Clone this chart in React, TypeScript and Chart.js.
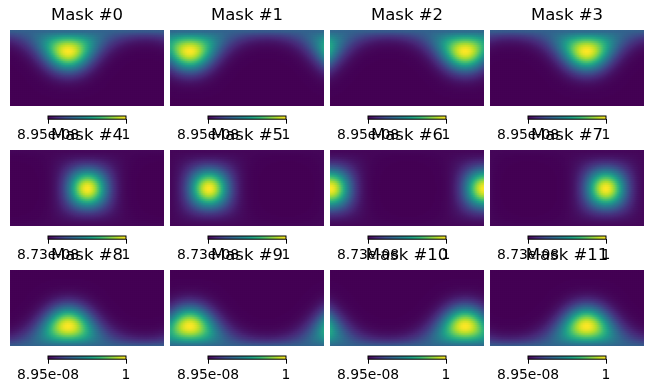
import React, { useEffect, useRef } from "react";
import { Chart, registerables } from "chart.js";

Chart.register(...registerables);

// ---------------- data ----------------
const maskTitles = [
  "Mask #0", "Mask #1", "Mask #2", "Mask #3",
  "Mask #4", "Mask #5", "Mask #6", "Mask #7",
  "Mask #8", "Mask #9", "Mask #10", "Mask #11",
];
// centre of each mask's gaussian spot (longitude, latitude in degrees)
const maskCenterLon = [45, 135, 225, 315, 0, 90, 180, 270, 45, 135, 225, 315];
const maskCenterLat = [41.81, 41.81, 41.81, 41.81, 0, 0, 0, 0, -41.81, -41.81, -41.81, -41.81];
// gaussian width of each spot (degrees)
const maskSigmaDeg = [31.6, 31.6, 31.6, 31.6, 31.6, 31.6, 31.6, 31.6, 31.6, 31.6, 31.6, 31.6];
// colour-bar range and its tick labels
const colorbarMinValues = [8.95e-8, 8.95e-8, 8.95e-8, 8.95e-8, 8.73e-8, 8.73e-8, 8.73e-8, 8.73e-8, 8.95e-8, 8.95e-8, 8.95e-8, 8.95e-8];
const colorbarMaxValues = [1, 1, 1, 1, 1, 1, 1, 1, 1, 1, 1, 1];
const colorbarMinLabels = ["8.95e-08", "8.95e-08", "8.95e-08", "8.95e-08", "8.73e-08", "8.73e-08", "8.73e-08", "8.73e-08", "8.95e-08", "8.95e-08", "8.95e-08", "8.95e-08"];
const colorbarMaxLabels = ["1", "1", "1", "1", "1", "1", "1", "1", "1", "1", "1", "1"];

// ---------------- styling / layout ----------------
const FONT = "'DejaVu Sans', 'Liberation Sans', sans-serif";
const PANEL_LEFT = [10, 170, 330, 490];
const PANEL_TOP = [30, 150, 270];
const PANEL_W = 154;
const PANEL_H = 76;
const GRID_NX = 77;
const GRID_NY = 38;
const CB_W = 78;
const CB_H = 3.2;
const CB_GAP = 9.8;

const VIRIDIS = [
  [68, 1, 84], [72, 40, 120], [62, 74, 137], [49, 104, 142], [38, 130, 142],
  [31, 158, 137], [53, 183, 121], [109, 205, 89], [180, 222, 44], [253, 231, 37],
];

function viridis(t: number): string {
  const tt = Math.max(0, Math.min(1, t)) * (VIRIDIS.length - 1);
  const i = Math.min(VIRIDIS.length - 2, Math.floor(tt));
  const f = tt - i;
  const a = VIRIDIS[i];
  const b = VIRIDIS[i + 1];
  const r = Math.round(a[0] + (b[0] - a[0]) * f);
  const g = Math.round(a[1] + (b[1] - a[1]) * f);
  const bl = Math.round(a[2] + (b[2] - a[2]) * f);
  return `rgb(${r},${g},${bl})`;
}

function maskValue(k: number, lonDeg: number, latDeg: number): number {
  const d2r = Math.PI / 180;
  const l1 = maskCenterLon[k] * d2r;
  const p1 = maskCenterLat[k] * d2r;
  const l2 = lonDeg * d2r;
  const p2 = latDeg * d2r;
  let c = Math.sin(p1) * Math.sin(p2) + Math.cos(p1) * Math.cos(p2) * Math.cos(l2 - l1);
  c = Math.max(-1, Math.min(1, c));
  const d = Math.acos(c);
  const s = maskSigmaDeg[k] * d2r;
  return Math.exp(-(d * d) / (2 * s * s));
}

function MaskMap({ k }: { k: number }) {
  const ref = useRef<HTMLCanvasElement>(null);
  const col = k % 4;
  const row = Math.floor(k / 4);
  useEffect(() => {
    const vmin = colorbarMinValues[k];
    const vmax = colorbarMaxValues[k];
    const pts: { x: number; y: number }[] = [];
    const colors: string[] = [];
    for (let j = 0; j < GRID_NY; j++) {
      const lat = -90 + ((j + 0.5) * 180) / GRID_NY;
      for (let i = 0; i < GRID_NX; i++) {
        const lon = -180 + ((i + 0.5) * 360) / GRID_NX;
        const v = Math.max(vmin, maskValue(k, lon, lat));
        pts.push({ x: lon, y: lat });
        colors.push(viridis((v - vmin) / (vmax - vmin)));
      }
    }
    const chart = new Chart(ref.current!, {
      type: "scatter",
      data: {
        datasets: [
          {
            data: pts,
            borderWidth: 0,
            pointBackgroundColor: colors,
            pointBorderColor: "rgba(0,0,0,0)",
            pointBorderWidth: 0,
            pointStyle: "rect",
            pointRadius: 2.2,
            clip: 0,
          } as any,
        ],
      },
      options: {
        animation: false,
        responsive: false,
        events: [],
        parsing: false,
        layout: { padding: 0, autoPadding: false },
        plugins: {
          legend: { display: false },
          tooltip: { enabled: false },
          title: {
            display: true,
            text: maskTitles[k],
            color: "#000",
            font: { family: FONT, size: 16.5, weight: "normal", lineHeight: 1.2 },
            padding: { top: 6, bottom: 4.2 },
          },
        },
        scales: {
          x: { type: "linear", min: -180, max: 180, reverse: true, display: false },
          y: { type: "linear", min: -90, max: 90, display: false },
        },
      } as any,
    });
    return () => chart.destroy();
  }, [k]);
  return (
    <canvas
      ref={ref}
      width={PANEL_W}
      height={PANEL_H + 30}
      style={{ position: "absolute", left: PANEL_LEFT[col], top: PANEL_TOP[row] - 30, width: PANEL_W, height: PANEL_H + 30 }}
    />
  );
}

const framePlugin = {
  id: "cbFrame",
  afterLayout(chart: any) {
    // let the tick labels use the space below the (zero-height) axis box
    const s = chart.scales.cb;
    if (s) s.bottom = chart.height;
  },
  afterDraw(chart: any) {
    const { left, top, right, bottom } = chart.chartArea;
    const ctx = chart.ctx;
    ctx.save();
    ctx.strokeStyle = "#000";
    ctx.lineWidth = 1;
    ctx.strokeRect(left, top, right - left, bottom - top);
    ctx.restore();
  },
};

function Colorbar({ k }: { k: number }) {
  const ref = useRef<HTMLCanvasElement>(null);
  const col = k % 4;
  const row = Math.floor(k / 4);
  const cbLeft = PANEL_LEFT[col] + (PANEL_W - CB_W) / 2;
  const cbTop = PANEL_TOP[row] + PANEL_H + CB_GAP;
  const padTop = 3;
  const canvasH = 40;
  const tickLen = 4.5;
  const tickPad = 3.6;
  const fontSize = 13.9;
  const padBottom = canvasH - padTop - CB_H;
  useEffect(() => {
    const vmin = colorbarMinValues[k];
    const vmax = colorbarMaxValues[k];
    const labels: number[] = [];
    const vals: number[] = [];
    const colors: string[] = [];
    for (let i = 0; i < CB_W; i++) {
      labels.push(i);
      vals.push(1);
      colors.push(viridis((i + 0.5) / CB_W));
    }
    const chart = new Chart(ref.current!, {
      type: "bar",
      data: {
        labels,
        datasets: [
          {
            data: vals,
            backgroundColor: colors,
            borderWidth: 0,
            barPercentage: 1,
            categoryPercentage: 1,
            xAxisID: "x",
            yAxisID: "y",
          },
        ],
      },
      options: {
        animation: false,
        responsive: false,
        events: [],
        layout: { padding: { left: 40, right: 40, top: padTop, bottom: padBottom }, autoPadding: false },
        plugins: { legend: { display: false }, tooltip: { enabled: false }, title: { display: false } },
        scales: {
          x: { type: "category", display: false },
          y: { type: "linear", min: 0, max: 1, display: false },
          cb: {
            type: "linear",
            axis: "x",
            position: "bottom",
            offset: false,
            min: vmin,
            max: vmax,
            afterBuildTicks: (s: any) => {
              s.ticks = [{ value: vmin }, { value: vmax }];
            },
            afterFit: (s: any) => {
              s.height = 0;
            },
            ticks: {
              autoSkip: false,
              maxRotation: 0,
              padding: tickPad,
              color: "#000",
              font: { family: FONT, size: fontSize, lineHeight: 1.2 },
              callback: (_v: any, i: number) => (i === 0 ? colorbarMinLabels[k] : colorbarMaxLabels[k]),
            },
            grid: { offset: false, drawOnChartArea: false, drawTicks: true, tickLength: tickLen, tickColor: "#000", tickWidth: 1 },
            border: { display: false },
          },
        },
      } as any,
      plugins: [framePlugin],
    });
    return () => chart.destroy();
  }, [k]);
  return (
    <canvas
      ref={ref}
      width={CB_W + 80}
      height={canvasH}
      style={{ position: "absolute", left: cbLeft - 40, top: cbTop - padTop, width: CB_W + 80, height: canvasH }}
    />
  );
}

export default function App() {
  const ids = maskTitles.map((_, i) => i);
  return (
    <div style={{ position: "absolute", left: 0, top: 0, width: 653, height: 392, background: "#fff", overflow: "hidden" }}>
      {ids.map((k) => (
        <Colorbar key={"cb" + k} k={k} />
      ))}
      {ids.map((k) => (
        <MaskMap key={"m" + k} k={k} />
      ))}
    </div>
  );
}
